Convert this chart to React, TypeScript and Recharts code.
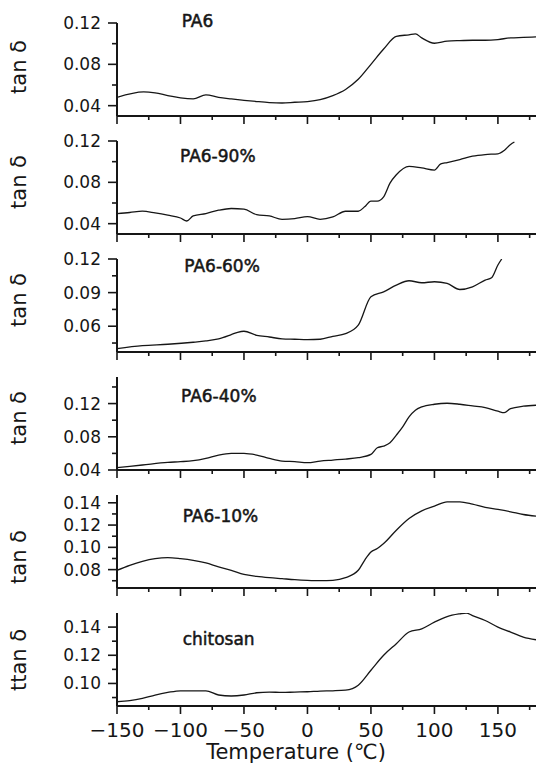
import { LineChart, Line, XAxis, YAxis } from 'recharts';

const xTicks = [-150, -125, -100, -75, -50, -25, 0, 25, 50, 75, 100, 125, 150, 175];
const xMajorTicks = [-150, -100, -50, 0, 50, 100, 150];

const panelNames = ['PA6', 'PA6-90%', 'PA6-60%', 'PA6-40%', 'PA6-10%', 'chitosan'];
const yTitles = ['tan δ', 'tan δ', 'tan δ', 'tan δ', 'tan δ', 'ttan δ'];

const pa6Temps = [-150, -129, -120, -110, -100, -90, -80, -70, -60, -50, -40, -30, -20, -10, 0, 10, 20, 30, 40, 50, 60, 70, 80, 85, 90, 100, 110, 120, 130, 140, 150, 160, 170, 180];
const pa6Values = [0.048, 0.0534, 0.0524, 0.0498, 0.0475, 0.0465, 0.0505, 0.048, 0.0465, 0.0452, 0.044, 0.043, 0.0426, 0.0433, 0.044, 0.0459, 0.0498, 0.0557, 0.0655, 0.08, 0.0948, 0.107, 0.1086, 0.1095, 0.1056, 0.1004, 0.1024, 0.103, 0.1033, 0.1033, 0.104, 0.1056, 0.106, 0.1065];

const pa690Temps = [-150, -140, -130, -120, -110, -100, -95, -90, -80, -70, -60, -50, -40, -30, -20, -10, 0, 10, 20, 30, 40, 45, 50, 55, 60, 65, 70, 80, 90, 100, 105, 110, 120, 130, 140, 150, 155, 160, 163];
const pa690Values = [0.0498, 0.0508, 0.0521, 0.0504, 0.0482, 0.0455, 0.0426, 0.0475, 0.0498, 0.053, 0.0547, 0.054, 0.0488, 0.0475, 0.0442, 0.0449, 0.0468, 0.0442, 0.0465, 0.052, 0.052, 0.0563, 0.0619, 0.0619, 0.066, 0.0792, 0.0873, 0.0955, 0.0939, 0.0919, 0.0978, 0.0991, 0.102, 0.1053, 0.1069, 0.1076, 0.1109, 0.1167, 0.119];

const pa660Temps = [-150, -130, -110, -90, -80, -70, -60, -55, -50, -40, -30, -20, -10, 0, 10, 20, 30, 40, 50, 60, 70, 80, 90, 100, 110, 120, 130, 140, 145, 150, 153];
const pa660Values = [0.04, 0.0427, 0.0439, 0.0457, 0.0469, 0.0487, 0.0525, 0.0546, 0.0555, 0.0519, 0.0504, 0.0487, 0.0484, 0.0481, 0.0484, 0.051, 0.0534, 0.0609, 0.0863, 0.0907, 0.0967, 0.1006, 0.0988, 0.0997, 0.0982, 0.0928, 0.0952, 0.1012, 0.1033, 0.1146, 0.12];

const pa640Temps = [-150, -130, -110, -100, -90, -80, -70, -60, -50, -40, -30, -20, -10, 0, 10, 20, 30, 40, 50, 55, 60, 65, 70, 75, 80, 85, 90, 100, 110, 120, 130, 140, 150, 155, 160, 170, 180];
const pa640Values = [0.0428, 0.046, 0.0492, 0.05, 0.0512, 0.054, 0.058, 0.06, 0.06, 0.058, 0.054, 0.0508, 0.05, 0.0488, 0.0508, 0.052, 0.0532, 0.0548, 0.0588, 0.0668, 0.0688, 0.0728, 0.082, 0.092, 0.104, 0.112, 0.116, 0.1192, 0.1204, 0.1192, 0.1172, 0.1152, 0.1108, 0.109, 0.114, 0.1168, 0.118];

const pa610Temps = [-150, -140, -130, -120, -110, -100, -90, -80, -70, -60, -50, -40, -30, -20, -10, 0, 10, 20, 30, 40, 45, 50, 55, 60, 70, 80, 90, 100, 110, 120, 130, 140, 150, 160, 170, 180];
const pa610Values = [0.0794, 0.0839, 0.0875, 0.0899, 0.0908, 0.0899, 0.0884, 0.086, 0.0824, 0.0794, 0.0758, 0.074, 0.0728, 0.0719, 0.071, 0.0704, 0.0701, 0.0704, 0.0728, 0.0794, 0.0884, 0.0959, 0.0989, 0.1034, 0.1154, 0.1259, 0.1328, 0.137, 0.1409, 0.1409, 0.1388, 0.1358, 0.134, 0.1319, 0.1295, 0.128];

const chitosanTemps = [-150, -140, -130, -120, -110, -100, -90, -80, -70, -60, -50, -40, -30, -20, -10, 0, 10, 20, 30, 40, 50, 60, 70, 80, 90, 100, 110, 120, 125, 130, 140, 150, 160, 170, 180];
const chitosanValues = [0.087, 0.0878, 0.0894, 0.0918, 0.0936, 0.0948, 0.0948, 0.0948, 0.0918, 0.0911, 0.0918, 0.0934, 0.0939, 0.0936, 0.0939, 0.0941, 0.0946, 0.0948, 0.0953, 0.0988, 0.1094, 0.12, 0.1282, 0.1365, 0.1388, 0.1435, 0.1475, 0.1494, 0.15, 0.1482, 0.1447, 0.14, 0.1365, 0.1329, 0.131];

const panelTemps = [pa6Temps, pa690Temps, pa660Temps, pa640Temps, pa610Temps, chitosanTemps];
const panelValues = [pa6Values, pa690Values, pa660Values, pa640Values, pa610Values, chitosanValues];

const yDomains = [[0.03, 0.12], [0.03, 0.12], [0.037, 0.12], [0.04, 0.152], [0.0635, 0.147], [0.084, 0.15]];
const yMajorTicks = [[0.04, 0.08, 0.12], [0.04, 0.08, 0.12], [0.06, 0.09, 0.12], [0.04, 0.08, 0.12], [0.08, 0.1, 0.12, 0.14], [0.1, 0.12, 0.14]];
const yMinorTicks = [[0.06, 0.1], [0.06, 0.1], [0.045, 0.075, 0.105], [0.06, 0.1, 0.14], [0.07, 0.09, 0.11, 0.13], [0.09, 0.11, 0.13]];

// layout
const FONT = 'DejaVu Sans, sans-serif';
const INK = '#161616';
const PLOT_TOP = 22.7;
const PANEL_STEP = 118;
const PLOT_H = 93;
const MT = 10;
const AXIS_X = 117;
const nameSpots = [[181.7, 26.7], [180, 161.7], [184.3, 272.3], [181, 402.3], [182.7, 522.3], [182.7, 645]];
const titleSpots = [67, 182, 300, 418, 557, 660];

const isIn = (list: number[], v: number) => list.some((m) => Math.abs(m - v) < 1e-9);

function YTick(props: any) {
  const { x, y, payload, major } = props;
  const big = isIn(major, payload.value);
  return (
    <g>
      <line x1={x - (big ? 9 : 5)} x2={x} y1={y} y2={y} stroke={INK} strokeWidth={1.6} />
      {big && (
        <text x={x - 16} y={y} textAnchor="end" dominantBaseline="central" fontFamily={FONT} fontSize={17} fill={INK}>
          {payload.value.toFixed(2)}
        </text>
      )}
    </g>
  );
}

function XTick(props: any) {
  const { x, y, payload, showLabel } = props;
  const big = isIn(xMajorTicks, payload.value);
  return (
    <g>
      <line x1={x} x2={x} y1={y} y2={y + (big ? 8 : 4)} stroke={INK} strokeWidth={1.6} />
      {showLabel && big && (
        <text x={x} y={y + 31} textAnchor="middle" fontFamily={FONT} fontSize={20} fill={INK}>
          {payload.value < 0 ? '\u2212' + Math.abs(payload.value) : String(payload.value)}
        </text>
      )}
    </g>
  );
}

function Panel({ idx }: { idx: number }) {
  const data = panelTemps[idx].map((t, i) => ({ t, v: panelValues[idx][i] }));
  const last = idx === panelNames.length - 1;
  const xh = last ? 40 : 12;
  const yTicks = [...yMajorTicks[idx], ...yMinorTicks[idx]].sort((a, b) => a - b);
  return (
    <div style={{ position: 'absolute', left: 0, top: PLOT_TOP + PANEL_STEP * idx - MT }}>
      <LineChart width={536} height={MT + PLOT_H + xh} data={data} margin={{ top: MT, right: 0, bottom: 0, left: 0 }}>
        <XAxis
          dataKey="t"
          type="number"
          domain={[-150, 180]}
          ticks={xTicks}
          interval={0}
          allowDataOverflow
          height={xh}
          axisLine={{ stroke: INK, strokeWidth: 2 }}
          tickLine={false}
          tickSize={0}
          tickMargin={0}
          tick={(p: any) => <XTick {...p} showLabel={last} />}
        />
        <YAxis
          type="number"
          domain={yDomains[idx]}
          ticks={yTicks}
          interval={0}
          allowDataOverflow
          width={AXIS_X}
          axisLine={{ stroke: INK, strokeWidth: 2 }}
          tickLine={false}
          tickSize={0}
          tickMargin={0}
          tick={(p: any) => <YTick {...p} major={yMajorTicks[idx]} />}
        />
        <Line type="monotone" dataKey="v" stroke={INK} strokeWidth={1.3} dot={false} isAnimationActive={false} />
      </LineChart>
    </div>
  );
}

export default function App() {
  return (
    <div style={{ position: 'absolute', left: 0, top: 0, width: 536, height: 772, background: '#fff', overflow: 'hidden' }}>
      {panelNames.map((_, i) => (
        <Panel key={i} idx={i} />
      ))}
      <svg width={536} height={772} style={{ position: 'absolute', left: 0, top: 0, pointerEvents: 'none' }}>
        {panelNames.map((name, i) => (
          <text
            key={name}
            x={nameSpots[i][0]}
            y={nameSpots[i][1]}
            fontFamily={FONT}
            fontSize={17}
            fill={INK}
            stroke={INK}
            strokeWidth={0.5}
          >
            {name}
          </text>
        ))}
        {yTitles.map((title, i) => (
          <text
            key={i}
            x={19}
            y={titleSpots[i]}
            transform={`rotate(-90 19 ${titleSpots[i]})`}
            textAnchor="middle"
            dominantBaseline="central"
            fontFamily={FONT}
            fontSize={21}
            fill={INK}
          >
            {title}
          </text>
        ))}
        <text x={296} y={759} textAnchor="middle" fontFamily={FONT} fontSize={21} fill={INK}>
          Temperature (℃)
        </text>
      </svg>
    </div>
  );
}
